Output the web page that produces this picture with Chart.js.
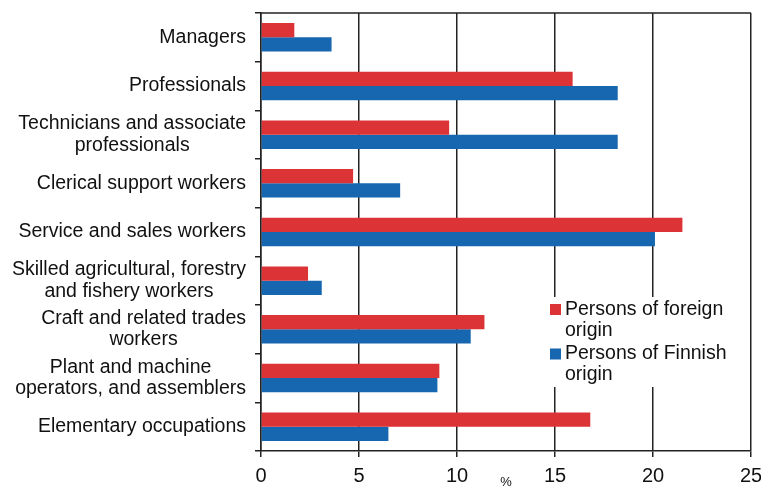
<!DOCTYPE html>
<html>
<head>
<meta charset="utf-8">
<script src="https://cdn.jsdelivr.net/npm/chart.js@4.4.0/dist/chart.umd.min.js"></script>
<style>
	body { margin: 0; background: #fff; }
	#wrap { width: 761px; height: 490px; }
</style>
</head>
<body>
<div id="wrap"><canvas id="occupations" width="761" height="490"></canvas></div>
<script>

var occupations = [
	["Managers"],
	["Professionals"],
	["Technicians and associate", "professionals"],
	["Clerical support workers"],
	["Service and sales workers"],
	["Skilled agricultural, forestry", "and fishery workers"],
	["Craft and related trades", "workers"],
	["Plant and machine", "operators, and assemblers"],
	["Elementary occupations"]
];
var foreignorigin = [1.7, 15.9, 9.6, 4.7, 21.5, 2.4, 11.4, 9.1, 16.8];
var finnishorigin = [3.6, 18.2, 18.2, 7.1, 20.1, 3.1, 10.7, 9.0, 6.5];
var serieslabels = [["Persons of foreign", "origin"], ["Persons of Finnish", "origin"]];
var xticks = [0, 5, 10, 15, 20, 25];

var fontname = '"Liberation Sans", Arial, sans-serif';

// y labels: each block right aligned, lines centred to each other
var ylabels_plugin = {
	id: 'ylabels',
	afterDraw: function(chart){
		var ctx = chart.ctx;
		var yscale = chart.scales.y;
		var right = chart.chartArea.left - 15;
		var lh = 21.4;
		ctx.save();
		ctx.font = '19.5px ' + fontname;
		ctx.fillStyle = '#111';
		ctx.textAlign = 'center';
		ctx.textBaseline = 'middle';
		chart.data.labels.forEach(function(lines, i){
			var w = 0;
			lines.forEach(function(l){ w = Math.max(w, ctx.measureText(l).width); });
			var cx = right - w / 2;
			var y0 = yscale.getPixelForTick(i) - (lines.length - 1) * lh / 2;
			lines.forEach(function(l, k){ ctx.fillText(l, cx, y0 + k * lh); });
		});
		ctx.restore();
	}
};

// top frame line + legend box inside the plot
var frame_plugin = {
	id: 'frame',
	afterDraw: function(chart){
		var ctx = chart.ctx;
		var a = chart.chartArea;
		ctx.save();
		ctx.strokeStyle = '#222';
		ctx.lineWidth = 1.5;
		ctx.beginPath();
		ctx.moveTo(a.left, a.top);
		ctx.lineTo(a.right, a.top);
		ctx.stroke();

		var bx = a.right - 206, by = a.bottom - 154;
		ctx.fillStyle = '#fff';
		ctx.fillRect(bx, by, 200, 90);
		ctx.font = '19.5px ' + fontname;
		ctx.textAlign = 'left';
		ctx.textBaseline = 'middle';
		chart.data.datasets.forEach(function(ds, i){
			var ty = by + 12.5 + i * 44.5;
			ctx.fillStyle = ds.backgroundColor;
			ctx.fillRect(bx + 5, ty - 5.5, 11, 11);
			ctx.fillStyle = '#111';
			serieslabels[i].forEach(function(l, k){ ctx.fillText(l, bx + 20, ty + k * 21); });
		});
		ctx.restore();
	}
};

var chart_bar_settings = {
	type: 'bar',
	data: {
		labels: occupations,
		datasets: [{
			label: serieslabels[0].join(' '),
			data: foreignorigin,
			backgroundColor: "#DC3336"
		}, {
			label: serieslabels[1].join(' '),
			data: finnishorigin,
			backgroundColor: "#1667B0"
		}]
	},
	options: {
		indexAxis: 'y',
		responsive: false,
		animation: false,
		categoryPercentage: 0.585,
		barPercentage: 1.0,
		layout: { padding: { top: 13, right: 10, left: 0, bottom: 0 } },
		plugins: {
			legend: { display: false },
			tooltip: { enabled: false }
		},
		scales: {
			x: {
				min: 0,
				max: 25,
				afterBuildTicks: function(scale){
					scale.ticks = xticks.map(function(v){ return { value: v }; });
				},
				afterFit: function(scale){
					scale.height = 39;
					scale.paddingLeft = 0;
					scale.paddingRight = 0;
				},
				grid: {
					color: '#222',
					lineWidth: 1.5,
					tickLength: 6,
					drawTicks: true
				},
				border: { color: '#222', width: 1.5 },
				ticks: {
					color: '#111',
					padding: 7,
					maxRotation: 0,
					font: { family: fontname, size: 20 }
				},
				title: {
					display: true,
					text: '%',
					color: '#111',
					padding: { top: 0, bottom: 0 },
					font: { family: fontname, size: 13 }
				}
			},
			y: {
				afterFit: function(scale){ scale.width = 261; },
				grid: {
					offset: true,
					drawOnChartArea: false,
					color: '#222',
					lineWidth: 1.5,
					tickLength: 6
				},
				border: { color: '#222', width: 1.5 },
				ticks: { display: false }
			}
		}
	},
	plugins: [ylabels_plugin, frame_plugin]
};

var chart_bar = new Chart(document.getElementById('occupations'), chart_bar_settings);

</script>
</body>
</html>
